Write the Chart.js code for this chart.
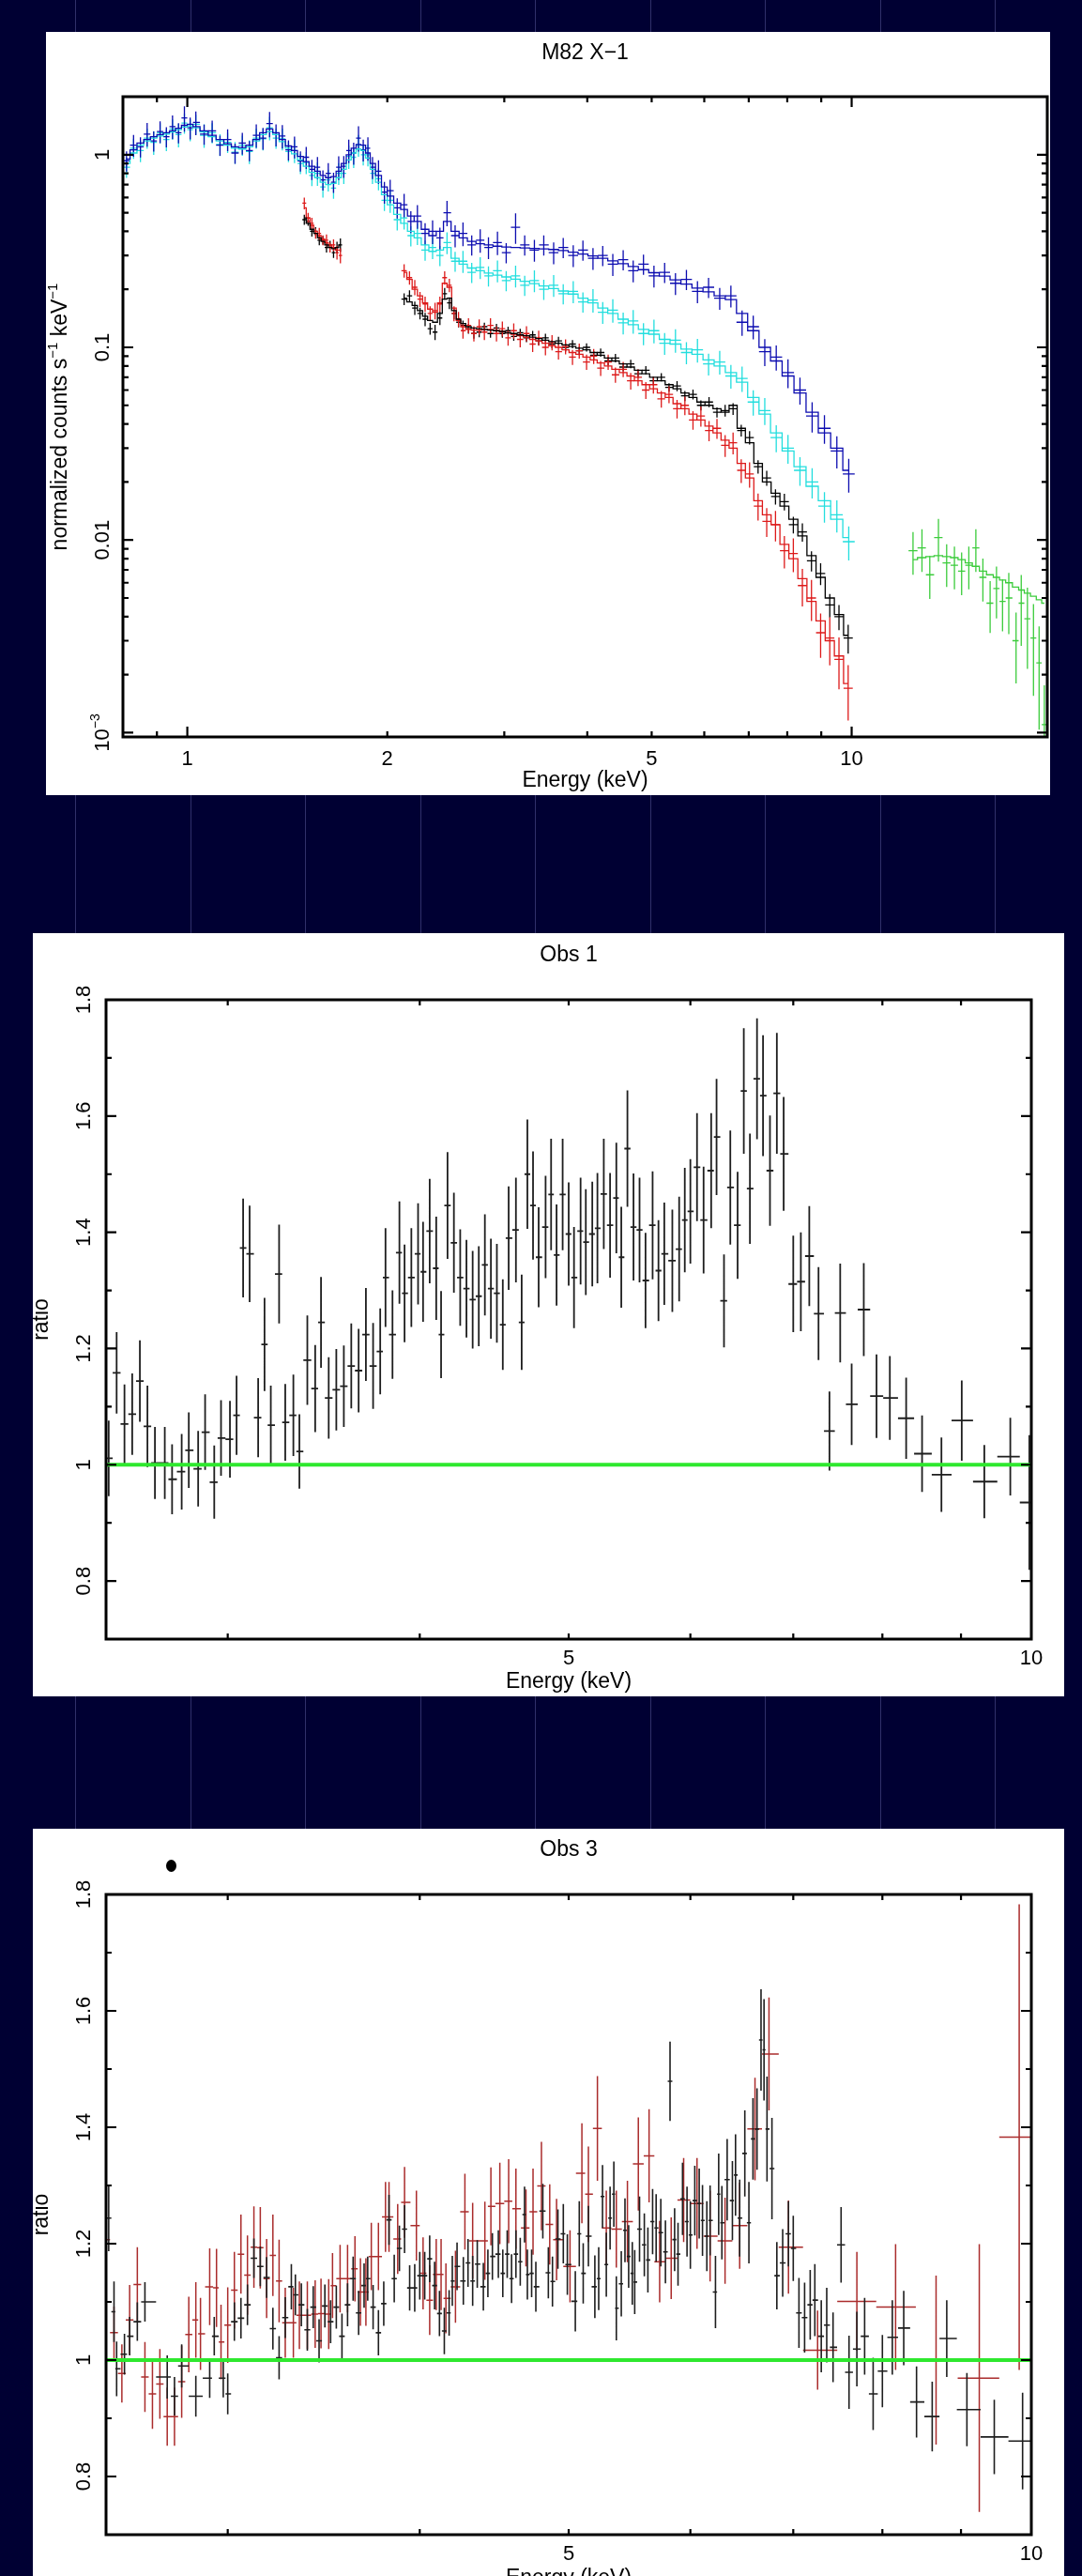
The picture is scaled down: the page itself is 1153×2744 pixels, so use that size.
<!DOCTYPE html>
<html>
<head>
<meta charset="utf-8">
<title>M82 X-1 spectra and ratios</title>
<script src="https://cdn.jsdelivr.net/npm/chart.js@4.4.1/dist/chart.umd.min.js"></script>
<style>
  html, body { margin: 0; padding: 0; }
  body {
    width: 1153px; height: 2744px; overflow: hidden; position: relative;
    background-color: #000033;
    background-image: repeating-linear-gradient(90deg, transparent 0px, transparent 80px, #30306a 80px, #30306a 81px, transparent 81px, transparent 122.5px);
  }
  .panel { position: absolute; background: #fff; overflow: hidden; }
  .panel canvas { display: block; }
  #p1 { left: 49px; top: 34px; width: 1070px; height: 813px; }
  #p2 { left: 35px; top: 994px; width: 1099px; height: 813px; }
  #p3 { left: 35px; top: 1948px; width: 1099px; height: 813px; }
  .dot { position: absolute; left: 177px; top: 1981px; width: 11px; height: 13px; border-radius: 50%; background: #000; }
</style>
</head>
<body>
<div class="panel" id="p1"><canvas id="c1" width="1070" height="813"></canvas></div>
<div class="panel" id="p2"><canvas id="c2" width="1099" height="813"></canvas></div>
<div class="panel" id="p3"><canvas id="c3" width="1099" height="813"></canvas></div>
<div class="dot"></div>
<script>
// ---------- panel 1: M82 X-1 unfolded spectra ----------
const specE = [0.81, 0.83, 0.85, 0.87, 0.89, 0.91, 0.93, 0.95, 0.97, 0.99,
  1.01, 1.03, 1.06, 1.09, 1.12, 1.15, 1.18, 1.21, 1.24, 1.27,
  1.30, 1.33, 1.36, 1.39, 1.42, 1.45, 1.48, 1.51, 1.54, 1.57,
  1.60, 1.63, 1.66, 1.69, 1.72, 1.75, 1.78, 1.81, 1.84, 1.87,
  1.90, 1.94, 1.98, 2.02, 2.07, 2.12, 2.17, 2.22, 2.28, 2.34,
  2.40, 2.46, 2.53, 2.60, 2.68, 2.76, 2.84, 2.93, 3.02, 3.12,
  3.22, 3.33, 3.44, 3.56, 3.68, 3.81, 3.94, 4.08, 4.22, 4.37,
  4.53, 4.69, 4.86, 5.04, 5.23, 5.43, 5.64, 5.86, 6.09, 6.33,
  6.58, 6.84, 7.11, 7.40, 7.70, 8.02, 8.36, 8.72, 9.10, 9.50, 9.90];

const blueData = [0.93, 1.12, 1.10, 1.28, 1.18, 1.32, 1.24, 1.40, 1.30, 1.55,
  1.38, 1.47, 1.28, 1.33, 1.12, 1.20, 1.02, 1.15, 1.05, 1.26,
  1.22, 1.45, 1.27, 1.25, 1.06, 1.10, 0.93, 0.97, 0.84, 0.86,
  0.74, 0.80, 0.72, 0.86, 0.87, 1.05, 1.02, 1.22, 1.06, 1.08,
  0.86, 0.82, 0.64, 0.65, 0.53, 0.55, 0.45, 0.48, 0.39, 0.40,
  0.37, 0.50, 0.38, 0.39, 0.34, 0.36, 0.33, 0.35, 0.31, 0.42,
  0.34, 0.32, 0.34, 0.31, 0.33, 0.30, 0.32, 0.29, 0.30, 0.27,
  0.285, 0.25, 0.27, 0.235, 0.245, 0.215, 0.225, 0.195, 0.205, 0.18,
  0.185, 0.135, 0.128, 0.095, 0.089, 0.074, 0.060, 0.044, 0.038, 0.029, 0.022];
const blueErr = [0.12, 0.13, 0.12, 0.14, 0.12, 0.13, 0.12, 0.14, 0.12, 0.15,
  0.13, 0.14, 0.12, 0.13, 0.12, 0.13, 0.12, 0.13, 0.12, 0.14,
  0.13, 0.15, 0.13, 0.14, 0.12, 0.13, 0.12, 0.13, 0.12, 0.13,
  0.12, 0.13, 0.12, 0.14, 0.13, 0.14, 0.13, 0.15, 0.13, 0.14,
  0.13, 0.14, 0.13, 0.14, 0.12, 0.14, 0.13, 0.14, 0.13, 0.14,
  0.13, 0.15, 0.13, 0.14, 0.12, 0.14, 0.13, 0.14, 0.12, 0.18,
  0.12, 0.13, 0.12, 0.13, 0.12, 0.13, 0.12, 0.13, 0.12, 0.13,
  0.12, 0.13, 0.12, 0.13, 0.12, 0.13, 0.12, 0.13, 0.12, 0.13,
  0.13, 0.15, 0.14, 0.16, 0.15, 0.17, 0.16, 0.18, 0.17, 0.19, 0.20];
const blueModel = [0.95, 1.06, 1.15, 1.20, 1.24, 1.27, 1.30, 1.33, 1.37, 1.42,
  1.44, 1.40, 1.33, 1.26, 1.20, 1.14, 1.10, 1.09, 1.12, 1.20,
  1.30, 1.36, 1.30, 1.20, 1.11, 1.05, 0.98, 0.92, 0.87, 0.82,
  0.78, 0.76, 0.77, 0.82, 0.90, 1.00, 1.08, 1.13, 1.12, 1.02,
  0.90, 0.78, 0.68, 0.61, 0.56, 0.52, 0.48, 0.45, 0.41, 0.38,
  0.40, 0.45, 0.40, 0.37, 0.355, 0.345, 0.34, 0.335, 0.332, 0.33,
  0.328, 0.326, 0.324, 0.322, 0.318, 0.312, 0.305, 0.298, 0.290, 0.281,
  0.272, 0.263, 0.253, 0.244, 0.234, 0.224, 0.213, 0.203, 0.194, 0.185,
  0.177, 0.150, 0.122, 0.100, 0.085, 0.071, 0.058, 0.046, 0.036, 0.030, 0.023];

const cyanData = [0.86, 1.08, 1.05, 1.22, 1.16, 1.30, 1.20, 1.36, 1.27, 1.46,
  1.35, 1.44, 1.26, 1.30, 1.13, 1.16, 1.03, 1.12, 1.04, 1.22,
  1.21, 1.38, 1.22, 1.21, 1.04, 1.05, 0.90, 0.91, 0.78, 0.80,
  0.68, 0.74, 0.67, 0.80, 0.80, 0.98, 0.97, 1.12, 1.00, 1.00,
  0.80, 0.75, 0.58, 0.58, 0.46, 0.47, 0.38, 0.39, 0.32, 0.33,
  0.30, 0.35, 0.28, 0.28, 0.245, 0.26, 0.235, 0.25, 0.222, 0.235,
  0.21, 0.222, 0.20, 0.21, 0.19, 0.195, 0.172, 0.176, 0.152, 0.156,
  0.134, 0.137, 0.118, 0.122, 0.105, 0.109, 0.094, 0.097, 0.082, 0.084,
  0.071, 0.069, 0.052, 0.047, 0.034, 0.030, 0.023, 0.020, 0.0150, 0.0135, 0.0098];
const cyanErr = [0.12, 0.12, 0.13, 0.12, 0.14, 0.12, 0.13, 0.12, 0.14, 0.12,
  0.13, 0.12, 0.14, 0.12, 0.13, 0.12, 0.13, 0.12, 0.14, 0.12,
  0.13, 0.14, 0.12, 0.13, 0.12, 0.14, 0.12, 0.13, 0.12, 0.14,
  0.12, 0.13, 0.12, 0.13, 0.12, 0.14, 0.12, 0.13, 0.12, 0.13,
  0.12, 0.13, 0.12, 0.14, 0.12, 0.13, 0.12, 0.13, 0.12, 0.13,
  0.12, 0.13, 0.12, 0.13, 0.12, 0.13, 0.12, 0.13, 0.12, 0.13,
  0.12, 0.13, 0.12, 0.13, 0.12, 0.13, 0.12, 0.14, 0.13, 0.14,
  0.13, 0.14, 0.13, 0.14, 0.13, 0.14, 0.13, 0.14, 0.13, 0.14,
  0.14, 0.15, 0.15, 0.16, 0.16, 0.17, 0.17, 0.18, 0.18, 0.19, 0.20];
const cyanModel = [0.90, 1.02, 1.12, 1.18, 1.22, 1.25, 1.28, 1.31, 1.35, 1.39,
  1.41, 1.38, 1.31, 1.24, 1.18, 1.12, 1.08, 1.07, 1.10, 1.18,
  1.27, 1.32, 1.27, 1.17, 1.08, 1.01, 0.94, 0.87, 0.81, 0.76,
  0.72, 0.70, 0.71, 0.76, 0.84, 0.94, 1.02, 1.07, 1.05, 0.96,
  0.84, 0.72, 0.62, 0.55, 0.49, 0.44, 0.40, 0.37, 0.34, 0.315,
  0.32, 0.33, 0.29, 0.27, 0.258, 0.25, 0.243, 0.237, 0.232, 0.226,
  0.22, 0.214, 0.208, 0.202, 0.196, 0.189, 0.180, 0.170, 0.160, 0.150,
  0.140, 0.131, 0.124, 0.117, 0.110, 0.104, 0.098, 0.092, 0.086, 0.080,
  0.074, 0.066, 0.055, 0.045, 0.036, 0.029, 0.024, 0.019, 0.0160, 0.0128, 0.0103];

// short soft segment (black + red)
const softE = [1.50, 1.52, 1.54, 1.56, 1.58, 1.60, 1.62, 1.64, 1.66, 1.68, 1.70];
const blackSoft = [0.46, 0.45, 0.40, 0.40, 0.36, 0.36, 0.33, 0.34, 0.31, 0.33, 0.34];
const blackSoftErr = [0.06, 0.05, 0.06, 0.05, 0.06, 0.05, 0.06, 0.05, 0.06, 0.07, 0.08];
const blackSoftModel = [0.47, 0.44, 0.41, 0.39, 0.37, 0.355, 0.34, 0.33, 0.325, 0.33, 0.34];
const redSoft = [0.56, 0.47, 0.44, 0.39, 0.39, 0.36, 0.36, 0.33, 0.34, 0.31, 0.30];
const redSoftErr = [0.07, 0.06, 0.07, 0.06, 0.07, 0.06, 0.07, 0.06, 0.07, 0.08, 0.09];
const redSoftModel = [0.53, 0.47, 0.43, 0.40, 0.38, 0.365, 0.35, 0.34, 0.33, 0.32, 0.32];

// hard segment (black + red)
const hardE = [2.12, 2.16, 2.20, 2.24, 2.28, 2.32, 2.36, 2.40, 2.44, 2.48, 2.52, 2.56, 2.60,
  2.65, 2.70, 2.75, 2.80, 2.86, 2.92, 2.98,
  3.04, 3.10, 3.17, 3.24, 3.31, 3.38, 3.46, 3.54, 3.62, 3.71, 3.80, 3.89, 3.99,
  4.09, 4.19, 4.30, 4.41, 4.53, 4.65, 4.77, 4.90,
  5.03, 5.17, 5.31, 5.46, 5.61, 5.77, 5.93,
  6.10, 6.27, 6.45, 6.63, 6.82,
  7.02, 7.23, 7.45, 7.68, 7.92,
  8.17, 8.43, 8.70, 8.98, 9.27, 9.57, 9.88];
const blackHard = [0.178, 0.185, 0.160, 0.150, 0.140, 0.125, 0.120, 0.142, 0.190, 0.170, 0.150, 0.135, 0.130,
  0.125, 0.118, 0.120, 0.128, 0.118, 0.126, 0.118,
  0.122, 0.114, 0.119, 0.112, 0.116, 0.108, 0.112, 0.104, 0.108, 0.100, 0.104, 0.096, 0.100,
  0.091, 0.094, 0.085, 0.088, 0.079, 0.082, 0.073, 0.076,
  0.067, 0.070, 0.062, 0.063, 0.056, 0.057, 0.050,
  0.052, 0.046, 0.047, 0.048, 0.037,
  0.034, 0.024, 0.021, 0.0168, 0.0158,
  0.0120, 0.0110, 0.0078, 0.0067, 0.0046, 0.0040, 0.0031];
const blackHardErr = [0.07, 0.07, 0.08, 0.07, 0.08, 0.07, 0.09, 0.08, 0.07, 0.07, 0.07, 0.06, 0.06,
  0.06, 0.06, 0.06, 0.05, 0.05, 0.05, 0.05,
  0.05, 0.05, 0.05, 0.05, 0.05, 0.05, 0.05, 0.05, 0.05, 0.05, 0.05, 0.05, 0.05,
  0.05, 0.05, 0.05, 0.05, 0.05, 0.05, 0.05, 0.05,
  0.05, 0.05, 0.05, 0.06, 0.06, 0.06, 0.06,
  0.06, 0.06, 0.07, 0.07, 0.07,
  0.08, 0.08, 0.09, 0.09, 0.10,
  0.10, 0.11, 0.12, 0.13, 0.14, 0.15, 0.17];
const blackHardModel = [0.180, 0.172, 0.165, 0.155, 0.145, 0.138, 0.135, 0.150, 0.178, 0.180, 0.155, 0.140, 0.133,
  0.128, 0.126, 0.125, 0.124, 0.123, 0.122, 0.121,
  0.119, 0.118, 0.116, 0.115, 0.113, 0.111, 0.109, 0.107, 0.105, 0.103, 0.101, 0.099, 0.097,
  0.094, 0.091, 0.088, 0.085, 0.082, 0.079, 0.076, 0.073,
  0.070, 0.067, 0.064, 0.061, 0.058, 0.055, 0.052,
  0.050, 0.048, 0.046, 0.050, 0.038,
  0.032, 0.025, 0.020, 0.0175, 0.0150,
  0.0128, 0.0105, 0.0083, 0.0064, 0.0050, 0.0041, 0.0032];
const redHard = [0.25, 0.23, 0.205, 0.178, 0.168, 0.15, 0.155, 0.168, 0.23, 0.21, 0.15, 0.14, 0.122,
  0.13, 0.118, 0.128, 0.12, 0.13, 0.118, 0.125,
  0.112, 0.122, 0.11, 0.118, 0.104, 0.112, 0.10, 0.106, 0.095, 0.101, 0.089, 0.096, 0.084,
  0.090, 0.078, 0.084, 0.072, 0.077, 0.067, 0.070, 0.060,
  0.064, 0.054, 0.057, 0.048, 0.050, 0.042, 0.044,
  0.037, 0.038, 0.031, 0.032, 0.023,
  0.022, 0.0150, 0.0125, 0.0120, 0.0088,
  0.0085, 0.0058, 0.0050, 0.0033, 0.0031, 0.0024, 0.0017];
const redHardErr = [0.08, 0.08, 0.09, 0.09, 0.09, 0.09, 0.10, 0.09, 0.08, 0.08, 0.09, 0.09, 0.09,
  0.09, 0.09, 0.09, 0.09, 0.09, 0.09, 0.09,
  0.09, 0.09, 0.09, 0.09, 0.09, 0.09, 0.09, 0.09, 0.09, 0.09, 0.09, 0.09, 0.09,
  0.09, 0.09, 0.09, 0.09, 0.09, 0.10, 0.10, 0.10,
  0.10, 0.10, 0.10, 0.11, 0.11, 0.11, 0.12,
  0.12, 0.12, 0.13, 0.13, 0.14,
  0.15, 0.16, 0.17, 0.18, 0.19,
  0.20, 0.22, 0.24, 0.26, 0.28, 0.30, 0.32];
const redHardModel = [0.245, 0.225, 0.200, 0.185, 0.170, 0.158, 0.152, 0.170, 0.215, 0.205, 0.160, 0.138, 0.128,
  0.124, 0.123, 0.123, 0.124, 0.124, 0.122, 0.121,
  0.119, 0.117, 0.115, 0.113, 0.110, 0.108, 0.105, 0.102, 0.100, 0.097, 0.094, 0.092, 0.089,
  0.086, 0.083, 0.080, 0.077, 0.074, 0.071, 0.067, 0.064,
  0.061, 0.058, 0.055, 0.051, 0.048, 0.045, 0.042,
  0.039, 0.036, 0.033, 0.030, 0.025,
  0.021, 0.0160, 0.0135, 0.0120, 0.0095,
  0.0080, 0.0063, 0.0048, 0.0038, 0.0030, 0.0025, 0.0018];

// high-energy detector (green)
const greenE = [12.37, 12.76, 13.11, 13.51, 13.90, 14.28, 14.64, 15.01, 15.38, 15.76,
  16.16, 16.52, 16.87, 17.24, 17.68, 18.00, 18.39, 18.78, 19.15, 19.50];
const greenData = [0.0088, 0.0091, 0.0066, 0.0103, 0.0076, 0.0074, 0.0069, 0.0074, 0.0091, 0.0064,
  0.0047, 0.0056, 0.0048, 0.0050, 0.0030, 0.0047, 0.0039, 0.0031, 0.0023, 0.0011];
const greenErr = [0.25, 0.25, 0.25, 0.25, 0.25, 0.25, 0.25, 0.25, 0.25, 0.25,
  0.30, 0.30, 0.30, 0.35, 0.40, 0.40, 0.45, 0.50, 0.55, 0.60];
const greenModel = [0.0079, 0.0081, 0.0082, 0.0083, 0.0082, 0.0081, 0.0079, 0.0076, 0.0073, 0.0069,
  0.0066, 0.0064, 0.0062, 0.0060, 0.0057, 0.0055, 0.0053, 0.0051, 0.0049, 0.0047];

const p1XLabels = [1, 2, 5, 10];
const p1XMajor = [1, 10];
const p1XMinor = [0.9, 2, 3, 4, 5, 6, 7, 8, 9];
const p1YLabelVals = [1, 0.1, 0.01, 0.001];
const p1YLabels = ['1', '0.1', '0.01', '10^{\u22123}'];
const p1YMajor = [1, 0.1, 0.01, 0.001];
const p1YMinor = [2, 0.9, 0.8, 0.7, 0.6, 0.5, 0.4, 0.3, 0.2,
  0.09, 0.08, 0.07, 0.06, 0.05, 0.04, 0.03, 0.02,
  0.009, 0.008, 0.007, 0.006, 0.005, 0.004, 0.003, 0.002];

// ---------- panel 2: Obs 1 ratio ----------
const obs1E = [2.51, 2.54, 2.57, 2.60, 2.63, 2.66, 2.69, 2.73, 2.76, 2.80,
  2.83, 2.87, 2.90, 2.94, 2.97, 3.01, 3.04, 3.07, 3.10, 3.14,
  3.17, 3.20, 3.24, 3.27, 3.31, 3.34, 3.38, 3.42, 3.45, 3.49,
  3.53, 3.57, 3.61, 3.65, 3.69, 3.73, 3.77, 3.80, 3.84, 3.88,
  3.91, 3.95, 3.99, 4.02, 4.06, 4.10, 4.13, 4.17, 4.21, 4.25,
  4.29, 4.33, 4.37, 4.41, 4.45, 4.49, 4.53, 4.57, 4.62, 4.66,
  4.70, 4.74, 4.78, 4.83, 4.87, 4.91, 4.955, 5.00, 5.04, 5.09,
  5.13, 5.18, 5.22, 5.27, 5.32, 5.37, 5.41, 5.46, 5.51, 5.56,
  5.61, 5.67, 5.72, 5.77, 5.84, 5.90, 5.95, 6.00, 6.06, 6.12,
  6.19, 6.24, 6.31, 6.37, 6.44, 6.50, 6.56, 6.63, 6.69, 6.76,
  6.83, 6.90, 7.00, 7.08, 7.17, 7.27, 7.39, 7.51, 7.64, 7.78,
  7.93, 8.09, 8.29, 8.49, 8.74, 9.01, 9.32, 9.69, 9.97];
const obs1Ratio = [1.011, 1.158, 1.07, 1.087, 1.144, 1.066, 1.003, 1.003, 0.975, 0.988,
  1.025, 0.993, 1.056, 0.970, 1.046, 1.044, 1.085, 1.373, 1.363, 1.081,
  1.207, 1.068, 1.328, 1.073, 1.085, 1.023, 1.18, 1.131, 1.245, 1.115,
  1.129, 1.135, 1.17, 1.162, 1.224, 1.17, 1.195, 1.322, 1.224, 1.365,
  1.295, 1.322, 1.363, 1.332, 1.402, 1.338, 1.224, 1.446, 1.382, 1.322,
  1.303, 1.284, 1.29, 1.344, 1.303, 1.295, 1.241, 1.39, 1.404, 1.245,
  1.50, 1.446, 1.357, 1.409, 1.465, 1.361, 1.465, 1.397, 1.322, 1.402,
  1.383, 1.397, 1.407, 1.466, 1.412, 1.459, 1.357, 1.544, 1.409, 1.404,
  1.317, 1.412, 1.334, 1.363, 1.351, 1.371, 1.421, 1.436, 1.512, 1.421,
  1.506, 1.564, 1.282, 1.477, 1.412, 1.643, 1.475, 1.664, 1.635, 1.506,
  1.639, 1.535, 1.311, 1.315, 1.359, 1.26, 1.058, 1.261, 1.104, 1.267,
  1.118, 1.115, 1.08, 1.019, 0.983, 1.076, 0.971, 1.014, 0.935];
const obs1Err = [0.065, 0.07, 0.068, 0.07, 0.07, 0.07, 0.062, 0.062, 0.06, 0.065,
  0.065, 0.065, 0.065, 0.063, 0.065, 0.066, 0.068, 0.085, 0.083, 0.068,
  0.08, 0.068, 0.085, 0.066, 0.07, 0.064, 0.077, 0.075, 0.078, 0.07,
  0.07, 0.07, 0.073, 0.072, 0.08, 0.074, 0.074, 0.085, 0.076, 0.088,
  0.084, 0.085, 0.087, 0.086, 0.09, 0.089, 0.075, 0.092, 0.086, 0.083,
  0.084, 0.084, 0.086, 0.087, 0.086, 0.085, 0.078, 0.089, 0.09, 0.082,
  0.094, 0.093, 0.086, 0.088, 0.096, 0.087, 0.096, 0.089, 0.087, 0.092,
  0.091, 0.09, 0.095, 0.095, 0.09, 0.095, 0.087, 0.1, 0.092, 0.09,
  0.082, 0.093, 0.087, 0.088, 0.088, 0.09, 0.09, 0.09, 0.093, 0.092,
  0.099, 0.1, 0.08, 0.098, 0.092, 0.108, 0.095, 0.104, 0.104, 0.095,
  0.104, 0.098, 0.083, 0.085, 0.086, 0.08, 0.068, 0.085, 0.07, 0.08,
  0.072, 0.072, 0.07, 0.066, 0.064, 0.069, 0.063, 0.067, 0.116];

// ---------- panel 3: Obs 3 ratio (two instruments) ----------
const obs3BlackE = [2.51, 2.53, 2.54, 2.57, 2.59, 2.62, 2.65, 2.74, 2.77, 2.80,
  2.86, 2.92, 2.94, 2.98, 3.00, 3.03, 3.06, 3.09, 3.12, 3.15,
  3.18, 3.21, 3.24, 3.27, 3.30, 3.32, 3.35, 3.38, 3.41, 3.44,
  3.47, 3.50, 3.53, 3.56, 3.59, 3.62, 3.65, 3.68, 3.70, 3.73,
  3.76, 3.79, 3.82, 3.85, 3.88, 3.91, 3.94, 3.97, 4.00, 4.03,
  4.06, 4.09, 4.12, 4.15, 4.18, 4.20, 4.23, 4.27, 4.30, 4.33,
  4.36, 4.40, 4.43, 4.46, 4.50, 4.53, 4.56, 4.59, 4.62, 4.65,
  4.68, 4.70, 4.73, 4.76, 4.81, 4.85, 4.88, 4.92, 4.96, 4.99,
  5.05, 5.08, 5.11, 5.15, 5.20, 5.23, 5.26, 5.29, 5.32, 5.35,
  5.37, 5.41, 5.44, 5.47, 5.50, 5.52, 5.56, 5.60, 5.63, 5.67,
  5.70, 5.74, 5.78, 5.82, 5.86, 5.89, 5.93, 5.97, 6.00, 6.04,
  6.08, 6.11, 6.15, 6.18, 6.23, 6.26, 6.29, 6.34, 6.39, 6.42,
  6.46, 6.51, 6.55, 6.59, 6.63, 6.67, 6.70, 6.73, 6.78, 6.83,
  6.89, 6.95, 7.00, 7.06, 7.12, 7.18, 7.23, 7.30, 7.36, 7.43,
  7.52, 7.61, 7.70, 7.79, 7.89, 8.00, 8.12, 8.26, 8.42, 8.62,
  8.81, 9.08, 9.46, 9.87];
const obs3Black = [1.244, 1.083, 0.985, 1.01, 1.041, 1.066, 1.10, 0.971, 0.938, 0.99,
  0.938, 0.969, 1.041, 0.969, 0.942, 1.066, 1.072, 1.095, 1.175, 1.161,
  1.142, 1.054, 1.004, 1.073, 1.126, 1.112, 1.095, 1.052, 1.091, 1.033,
  1.093, 1.066, 1.091, 1.041, 1.095, 1.14, 1.081, 1.128, 1.14, 1.091,
  1.047, 1.097, 1.241, 1.14, 1.192, 1.225, 1.124, 1.124, 1.145, 1.145,
  1.174, 1.128, 1.08, 1.05, 1.081, 1.136, 1.161, 1.136, 1.167, 1.136,
  1.165, 1.126, 1.149, 1.178, 1.182, 1.149, 1.182, 1.14, 1.182, 1.169,
  1.25, 1.147, 1.149, 1.126, 1.256, 1.15, 1.135, 1.208, 1.217, 1.164,
  1.101, 1.217, 1.149, 1.213, 1.126, 1.14, 1.281, 1.164, 1.244, 1.285,
  1.089, 1.131, 1.223, 1.178, 1.149, 1.134, 1.225, 1.198, 1.172, 1.238,
  1.227, 1.219, 1.186, 1.479, 1.207, 1.182, 1.277, 1.238, 1.215, 1.274,
  1.269, 1.24, 1.213, 1.24, 1.117, 1.285, 1.236, 1.31, 1.274, 1.318,
  1.244, 1.355, 1.236, 1.38, 1.397, 1.55, 1.533, 1.397, 1.329, 1.145,
  1.167, 1.217, 1.192, 1.081, 1.073, 1.095, 1.103, 1.041, 1.06, 1.022,
  1.198, 0.979, 1.019, 1.041, 0.942, 0.981, 1.039, 1.055, 0.928, 0.903,
  1.037, 0.915, 0.868, 0.861];
const obs3BlackErr = [0.057, 0.052, 0.047, 0.035, 0.033, 0.033, 0.034, 0.037, 0.033, 0.037,
  0.035, 0.034, 0.033, 0.033, 0.035, 0.033, 0.035, 0.035, 0.034, 0.034,
  0.035, 0.036, 0.037, 0.035, 0.039, 0.035, 0.037, 0.036, 0.036, 0.037,
  0.037, 0.037, 0.037, 0.039, 0.037, 0.038, 0.038, 0.038, 0.038, 0.038,
  0.039, 0.038, 0.043, 0.041, 0.039, 0.041, 0.039, 0.041, 0.041, 0.041,
  0.04, 0.041, 0.039, 0.04, 0.039, 0.043, 0.041, 0.041, 0.041, 0.043,
  0.041, 0.041, 0.041, 0.04, 0.041, 0.041, 0.041, 0.042, 0.041, 0.041,
  0.048, 0.043, 0.041, 0.043, 0.047, 0.044, 0.043, 0.051, 0.051, 0.052,
  0.052, 0.056, 0.052, 0.052, 0.054, 0.054, 0.054, 0.055, 0.054, 0.056,
  0.055, 0.056, 0.055, 0.054, 0.054, 0.055, 0.056, 0.054, 0.056, 0.056,
  0.058, 0.058, 0.054, 0.068, 0.054, 0.054, 0.062, 0.06, 0.058, 0.06,
  0.06, 0.061, 0.06, 0.06, 0.062, 0.07, 0.063, 0.07, 0.068, 0.07,
  0.066, 0.074, 0.07, 0.07, 0.07, 0.087, 0.087, 0.09, 0.087, 0.058,
  0.058, 0.056, 0.056, 0.06, 0.06, 0.06, 0.062, 0.062, 0.064, 0.06,
  0.065, 0.063, 0.064, 0.066, 0.062, 0.062, 0.064, 0.064, 0.061, 0.06,
  0.066, 0.063, 0.064, 0.083];
const obs3RedE = [2.50, 2.53, 2.56, 2.59, 2.62, 2.65, 2.68, 2.71, 2.74, 2.77,
  2.80, 2.83, 2.86, 2.88, 2.92, 2.95, 2.97, 3.00, 3.03, 3.06,
  3.09, 3.12, 3.15, 3.18, 3.21, 3.24, 3.27, 3.31, 3.34, 3.38,
  3.42, 3.45, 3.49, 3.51, 3.55, 3.59, 3.63, 3.66, 3.69, 3.72,
  3.76, 3.80, 3.82, 3.87, 3.91, 3.98, 4.02, 4.06, 4.10, 4.13,
  4.16, 4.22, 4.28, 4.33, 4.41, 4.45, 4.51, 4.57, 4.62, 4.69,
  4.74, 4.80, 4.86, 4.91, 5.01, 5.10, 5.15, 5.22, 5.29, 5.37,
  5.46, 5.55, 5.64, 5.73, 5.83, 5.94, 6.06, 6.18, 6.32, 6.46,
  6.61, 6.75, 6.95, 7.26, 7.70, 8.16, 8.67, 9.25, 9.82];
const obs3Red = [1.207, 1.047, 0.977, 1.069, 1.13, 0.971, 0.942, 0.959, 0.903, 0.903,
  0.963, 1.044, 1.069, 1.045, 1.126, 1.124, 1.031, 1.06, 1.12, 1.182,
  1.146, 1.194, 1.193, 1.14, 1.18, 1.136, 1.064, 1.064, 1.077, 1.077,
  1.079, 1.08, 1.079, 1.128, 1.14, 1.14, 1.157, 1.117, 1.117, 1.178,
  1.178, 1.246, 1.246, 1.208, 1.271, 1.231, 1.149, 1.103, 1.147, 1.147,
  1.106, 1.126, 1.255, 1.205, 1.205, 1.264, 1.269, 1.273, 1.26, 1.227,
  1.255, 1.299, 1.233, 1.207, 1.161, 1.321, 1.285, 1.398, 1.227, 1.225,
  1.238, 1.337, 1.351, 1.169, 1.175, 1.275, 1.269, 1.213, 1.205, 1.231,
  1.397, 1.526, 1.194, 1.017, 1.101, 1.091, 1.0, 0.969, 1.383];
const obs3RedErr = [0.066, 0.045, 0.05, 0.06, 0.064, 0.06, 0.06, 0.06, 0.05, 0.05,
  0.062, 0.065, 0.065, 0.062, 0.066, 0.067, 0.064, 0.065, 0.066, 0.068,
  0.068, 0.07, 0.07, 0.068, 0.07, 0.071, 0.06, 0.06, 0.058, 0.058,
  0.058, 0.06, 0.06, 0.056, 0.058, 0.058, 0.056, 0.058, 0.058, 0.058,
  0.058, 0.06, 0.06, 0.06, 0.061, 0.06, 0.062, 0.06, 0.061, 0.061,
  0.06, 0.062, 0.065, 0.065, 0.067, 0.067, 0.07, 0.072, 0.069, 0.066,
  0.074, 0.076, 0.069, 0.07, 0.062, 0.086, 0.082, 0.09, 0.064, 0.066,
  0.07, 0.08, 0.08, 0.07, 0.07, 0.072, 0.078, 0.078, 0.074, 0.074,
  0.088, 0.097, 0.08, 0.068, 0.085, 0.108, 0.145, 0.23, 0.4];

// model ratio = 1 across the band
const ratioModelE = [2.5, 10];
const ratioModel = [1, 1];

const ratioXLabels = [5, 10];
const ratioXMinor = [3, 4, 5, 6, 7, 8, 9];
const ratioYLabelVals = [0.8, 1, 1.2, 1.4, 1.6, 1.8];
const ratioYLabels = ['0.8', '1', '1.2', '1.4', '1.6', '1.8'];
const ratioYMajor = [0.8, 1, 1.2, 1.4, 1.6, 1.8];
const ratioYMinor = [0.9, 1.1, 1.3, 1.5, 1.7];

// ---------- drawing helpers ----------
const FONT = '"Liberation Sans", Arial, Helvetica, sans-serif';
Chart.defaults.font.family = FONT;
Chart.defaults.color = '#000';

const pts = (xs, ys) => xs.map((x, i) => ({ x: x, y: ys[i] }));

function dataSet(xs, ys, errs, color, width, rel) {
  return { data: pts(xs, ys), errs: errs, relErr: rel, barColor: color, barWidth: width,
    showLine: false, pointRadius: 0, borderColor: color, backgroundColor: color };
}
function modelSet(xs, ys, color, width, stepped) {
  return { data: pts(xs, ys), showLine: true, stepped: stepped, pointRadius: 0,
    borderColor: color, borderWidth: width, fill: false };
}

function splitRich(s) {
  const out = [];
  const re = /\^\{([^}]*)\}/g;
  let last = 0, m;
  while ((m = re.exec(s)) !== null) {
    if (m.index > last) out.push({ t: s.slice(last, m.index), sup: false });
    out.push({ t: m[1], sup: true });
    last = re.lastIndex;
  }
  if (last < s.length) out.push({ t: s.slice(last), sup: false });
  return out;
}
function drawRich(ctx, s, cx, cy, size) {
  const segs = splitRich(s);
  const main = size + 'px ' + FONT, small = Math.round(size * 0.64) + 'px ' + FONT;
  let w = 0;
  segs.forEach(g => { ctx.font = g.sup ? small : main; g.w = ctx.measureText(g.t).width; w += g.w; });
  let x = cx - w / 2;
  ctx.textAlign = 'left';
  ctx.textBaseline = 'middle';
  segs.forEach(g => {
    ctx.font = g.sup ? small : main;
    ctx.fillText(g.t, x, g.sup ? cy - size * 0.36 : cy);
    x += g.w;
  });
}

function drawErrorBars(chart) {
  const { ctx, chartArea: a, scales: { y } } = chart;
  chart.data.datasets.forEach((ds, i) => {
    if (!ds.errs) return;
    const meta = chart.getDatasetMeta(i);
    const n = meta.data.length;
    ctx.save();
    ctx.beginPath();
    ctx.rect(a.left, a.top, a.right - a.left, a.bottom - a.top);
    ctx.clip();
    ctx.strokeStyle = ds.barColor;
    ctx.lineWidth = ds.barWidth;
    ctx.beginPath();
    meta.data.forEach((p, j) => {
      const v = ds.data[j].y, e = ds.errs[j];
      let lo = ds.relErr ? v * (1 - e) : v - e;
      const hi = ds.relErr ? v * (1 + e) : v + e;
      if (lo <= y.min) lo = y.min * 0.9;
      const prev = j > 0 ? meta.data[j - 1].x : null;
      const next = j < n - 1 ? meta.data[j + 1].x : null;
      const hl = prev !== null ? (p.x - prev) / 2 : (next - p.x) / 2;
      const hr = next !== null ? (next - p.x) / 2 : (p.x - prev) / 2;
      ctx.moveTo(p.x - hl, p.y); ctx.lineTo(p.x + hr, p.y);
      ctx.moveTo(p.x, y.getPixelForValue(lo)); ctx.lineTo(p.x, y.getPixelForValue(hi));
    });
    ctx.stroke();
    ctx.restore();
  });
}

function pgFrame(f) {
  return {
    id: 'pgFrame',
    beforeDatasetsDraw(chart) { drawErrorBars(chart); },
    afterDraw(chart) {
      const { ctx, chartArea: a, scales: { x, y } } = chart;
      ctx.save();
      ctx.strokeStyle = '#000';
      ctx.lineWidth = 2.2;
      ctx.beginPath();
      const ticks = (vals, len, horiz) => vals.forEach(v => {
        if (horiz) {
          const p = x.getPixelForValue(v);
          ctx.moveTo(p, a.bottom); ctx.lineTo(p, a.bottom - len);
          ctx.moveTo(p, a.top); ctx.lineTo(p, a.top + len);
        } else {
          const p = y.getPixelForValue(v);
          ctx.moveTo(a.left, p); ctx.lineTo(a.left + len, p);
          ctx.moveTo(a.right, p); ctx.lineTo(a.right - len, p);
        }
      });
      ticks(f.xMajor, 11, true);
      ticks(f.xMinor, 6, true);
      ticks(f.yMajor, 11, false);
      ticks(f.yMinor, 6, false);
      ctx.stroke();
      ctx.lineWidth = 3;
      ctx.strokeRect(a.left, a.top, a.right - a.left, a.bottom - a.top);

      ctx.fillStyle = '#000';
      const cx = (a.left + a.right) / 2;
      drawRich(ctx, f.title, cx, f.titleY, 23);
      drawRich(ctx, 'Energy (keV)', cx, a.bottom + f.xTitleDy, 23);
      f.yLabelVals.forEach((v, i) => {
        ctx.save();
        ctx.translate(f.yLabelX, y.getPixelForValue(v));
        ctx.rotate(-Math.PI / 2);
        drawRich(ctx, f.yLabels[i], 0, 0, 22);
        ctx.restore();
      });
      ctx.save();
      ctx.translate(f.yTitleX, (a.top + a.bottom) / 2);
      ctx.rotate(-Math.PI / 2);
      drawRich(ctx, f.yTitle, 0, 0, 23);
      ctx.restore();
      ctx.restore();
    }
  };
}

function makeChart(id, c) {
  return new Chart(document.getElementById(id), {
    type: 'scatter',
    data: { datasets: c.datasets },
    options: {
      responsive: false,
      animation: false,
      events: [],
      layout: { padding: { top: c.top, right: c.right, left: 0, bottom: 0 } },
      plugins: { legend: { display: false }, tooltip: { enabled: false } },
      scales: {
        x: {
          type: 'logarithmic', min: c.xMin, max: c.xMax,
          afterBuildTicks: s => { s.ticks = c.xLabels.map(v => ({ value: v })); },
          afterFit: s => { s.height = c.bottom; },
          ticks: { autoSkip: false, maxRotation: 0, minRotation: 0, padding: c.labelPad,
            font: { size: 22 }, color: '#000', callback: v => String(v) },
          grid: { display: false }, border: { display: false }
        },
        y: {
          type: c.yType, min: c.yMin, max: c.yMax,
          afterFit: s => { s.width = c.left; },
          ticks: { display: false }, grid: { display: false }, border: { display: false }
        }
      }
    },
    plugins: [pgFrame(c.frame)]
  });
}

// ---------- panel 1 ----------
makeChart('c1', {
  top: 69, right: 3, left: 82, bottom: 62, labelPad: 3,
  xMin: 0.8, xMax: 19.7, yType: 'logarithmic', yMin: 9.5e-4, yMax: 2.0,
  xLabels: p1XLabels,
  datasets: [
    modelSet(hardE, blackHardModel, '#000000', 1.3, 'middle'),
    modelSet(hardE, redHardModel, '#dd1a1a', 1.3, 'middle'),
    modelSet(softE, blackSoftModel, '#000000', 1.3, 'middle'),
    modelSet(softE, redSoftModel, '#dd1a1a', 1.3, 'middle'),
    modelSet(specE, blueModel, '#0c0cb0', 1.3, 'middle'),
    modelSet(specE, cyanModel, '#22dede', 1.3, 'middle'),
    modelSet(greenE, greenModel, '#3ccc3c', 1.3, 'middle'),
    dataSet(hardE, blackHard, blackHardErr, '#000000', 1.3, true),
    dataSet(hardE, redHard, redHardErr, '#dd1a1a', 1.3, true),
    dataSet(softE, blackSoft, blackSoftErr, '#000000', 1.3, true),
    dataSet(softE, redSoft, redSoftErr, '#dd1a1a', 1.3, true),
    dataSet(specE, cyanData, cyanErr, '#22dede', 1.3, true),
    dataSet(specE, blueData, blueErr, '#0c0cb0', 1.3, true),
    dataSet(greenE, greenData, greenErr, '#3ccc3c', 1.3, true)
  ],
  frame: {
    title: 'M82 X\u22121', titleY: 23, xTitleDy: 47,
    xMajor: p1XMajor, xMinor: p1XMinor, yMajor: p1YMajor, yMinor: p1YMinor,
    yLabelVals: p1YLabelVals, yLabels: p1YLabels, yLabelX: 61,
    yTitle: 'normalized counts s^{\u22121} keV^{\u22121}', yTitleX: 16
  }
});

// ---------- panel 2 ----------
makeChart('c2', {
  top: 71, right: 35, left: 78, bottom: 61, labelPad: 0,
  xMin: 2.5, xMax: 10, yType: 'linear', yMin: 0.7, yMax: 1.8,
  xLabels: ratioXLabels,
  datasets: [
    modelSet(ratioModelE, ratioModel, '#2ee82e', 4, false),
    dataSet(obs1E, obs1Ratio, obs1Err, '#1e1e1e', 1.8, false)
  ],
  frame: {
    title: 'Obs 1', titleY: 24, xTitleDy: 46,
    xMajor: [], xMinor: ratioXMinor, yMajor: ratioYMajor, yMinor: ratioYMinor,
    yLabelVals: ratioYLabelVals, yLabels: ratioYLabels, yLabelX: 55,
    yTitle: 'ratio', yTitleX: 10
  }
});

// ---------- panel 3 ----------
makeChart('c3', {
  top: 70, right: 35, left: 78, bottom: 61, labelPad: 0,
  xMin: 2.5, xMax: 10, yType: 'linear', yMin: 0.7, yMax: 1.8,
  xLabels: ratioXLabels,
  datasets: [
    modelSet(ratioModelE, ratioModel, '#2ee82e', 4, false),
    dataSet(obs3RedE, obs3Red, obs3RedErr, '#aa2c2c', 1.5, false),
    dataSet(obs3BlackE, obs3Black, obs3BlackErr, '#1e1e1e', 1.6, false)
  ],
  frame: {
    title: 'Obs 3', titleY: 23, xTitleDy: 47,
    xMajor: [], xMinor: ratioXMinor, yMajor: ratioYMajor, yMinor: ratioYMinor,
    yLabelVals: ratioYLabelVals, yLabels: ratioYLabels, yLabelX: 55,
    yTitle: 'ratio', yTitleX: 10
  }
});
</script>
</body>
</html>
